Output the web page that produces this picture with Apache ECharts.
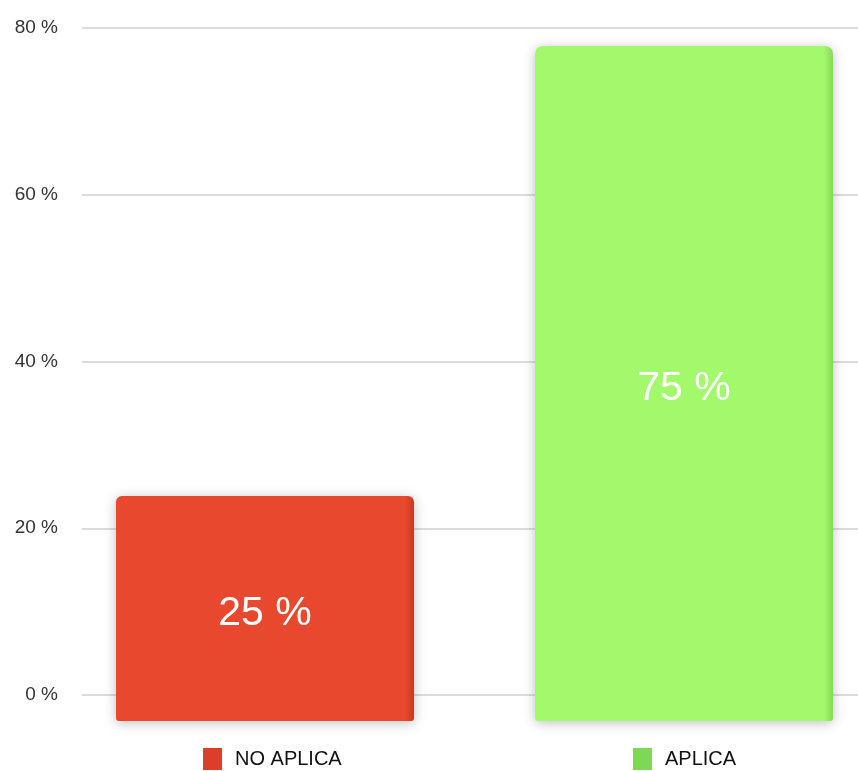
<!DOCTYPE html>
<html>
<head>
<meta charset="utf-8">
<script src="https://cdn.jsdelivr.net/npm/echarts@6/dist/echarts.min.js"></script>
<style>html,body{margin:0;padding:0;background:#fff}#c{width:858px;height:771px}</style>
</head>
<body>
<div id="c"></div>
<script>
var categories = ['NO APLICA', 'APLICA'];
var noAplicaValues = [25, '-'];
var aplicaValues = ['-', 75];
var yTicks = [0, 20, 40, 60, 80];

var redColor = '#E8492E', greenColor = '#A2F96B';
function grad(c, edge) {
  return new echarts.graphic.LinearGradient(0, 0, 1, 0, [
    {offset: 0, color: c}, {offset: 0.97, color: c}, {offset: 1, color: edge}
  ]);
}
var chart = echarts.init(document.getElementById('c'));
chart.setOption({
  animation: false,
  grid: [
    {left: 82, right: 0, top: 28, bottom: 76},
    {left: 91, right: 0, top: 1, bottom: 50}
  ],
  xAxis: [
    {type: 'category', gridIndex: 0, data: categories, show: false},
    {type: 'category', gridIndex: 1, data: categories, show: false}
  ],
  yAxis: [
    {type: 'value', gridIndex: 0, min: yTicks[0], max: yTicks[yTicks.length-1], interval: 20,
     axisLine: {show: false}, axisTick: {show: false},
     axisLabel: {formatter: '{value} %', color: '#333', fontSize: 19, fontFamily: 'Liberation Sans', margin: 24},
     splitLine: {lineStyle: {color: '#dcdcdc', width: 2}}},
    {type: 'value', gridIndex: 1, min: 0, max: 80, show: false, splitLine: {show: false}}
  ],
  legend: [
    {data: [{name: 'NO APLICA', itemStyle: {color: '#DC3E2A'}}], left: 203, top: 748, padding: 0, itemWidth: 19, itemHeight: 22,
     textStyle: {fontSize: 20, color: '#111', fontFamily: 'Liberation Sans', padding: [0, 0, 0, 8]}, icon: 'rect', selectedMode: false},
    {data: [{name: 'APLICA', itemStyle: {color: '#7FD855'}}], left: 633, top: 748, padding: 0, itemWidth: 19, itemHeight: 22,
     textStyle: {fontSize: 20, color: '#111', fontFamily: 'Liberation Sans', padding: [0, 0, 0, 8]}, icon: 'rect', selectedMode: false}
  ],
  series: [
    {name: 'NO APLICA', type: 'bar', xAxisIndex: 1, yAxisIndex: 1, data: noAplicaValues,
     barWidth: 298, barGap: '-88.1%',
     itemStyle: {color: grad(redColor, '#C8391F'), borderRadius: [6, 6, 3, 3], shadowBlur: 12, shadowColor: 'rgba(0,0,0,0.25)', shadowOffsetY: 2},
     label: {show: true, position: 'inside', offset: [0, 5], formatter: '{c} %', color: '#fff', fontSize: 41, fontFamily: 'Liberation Sans'}},
    {name: 'APLICA', type: 'bar', xAxisIndex: 1, yAxisIndex: 1, data: aplicaValues,
     barWidth: 298, barGap: '-88.1%',
     itemStyle: {color: grad(greenColor, '#86D85A'), borderRadius: [8, 8, 3, 3], shadowBlur: 12, shadowColor: 'rgba(0,0,0,0.25)', shadowOffsetY: 2},
     label: {show: true, position: 'inside', offset: [0, 5], formatter: '{c} %', color: '#fff', fontSize: 41, fontFamily: 'Liberation Sans'}}
  ]
});
</script>
</body>
</html>
